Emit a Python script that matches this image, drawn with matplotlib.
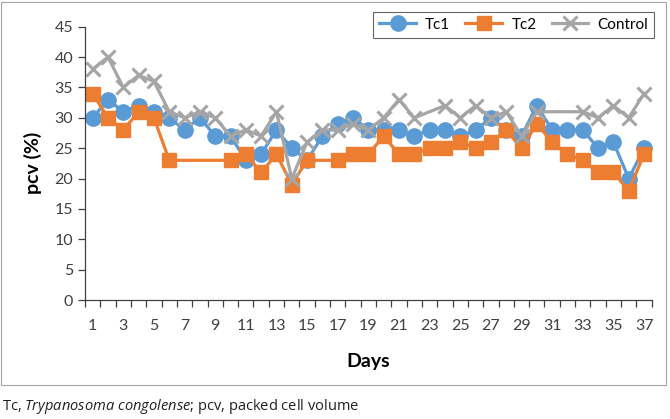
import numpy as np
import matplotlib
matplotlib.use("Agg")
import matplotlib.pyplot as plt
from matplotlib.patches import Rectangle

# pcv readings per day (nan = no reading that day, the line just joins across)
days = np.arange(1, 38)
tc1 = [30, 33, 31, 32, 31, 30, 28, 30, 27, 27, 23, 24, 28, 25, 23, 27, 29, 30, 28,
       28, 28, 27, 28, 28, 27, 28, 30, 28, 27, 32, 28, 28, 28, 25, 26, 20, 25]
tc2 = [34, 30, 28, 31, 30, 23, np.nan, np.nan, np.nan, 23, 24, 21, 24, 19, 23, np.nan,
       23, 24, 24, 27, 24, 24, 25, 25, 26, 25, 26, 28, 25, 29, 26, 24, 23, 21, 21, 18, 24]
control = [38, 40, 35, 37, 36, 31, 30, 31, 30, 27, 28, 27, 31, 20, 26, 28, 28, 29, 28,
           30, 33, 30, np.nan, 32, 30, 32, 30, 31, 27, 31, np.nan, np.nan, 31, 30, 32, 30, 34]
day_labels = [str(d) if d % 2 == 1 else "" for d in days]

plt.rcParams['font.family'] = ['Lato', 'DejaVu Sans']
plt.rcParams['mathtext.fontset'] = 'custom'
plt.rcParams['mathtext.it'] = 'Open Sans:italic'
plt.rcParams['mathtext.rm'] = 'Open Sans'

fig = plt.figure(figsize=(6.7, 4.19), dpi=100)
ax = fig.add_axes([85 / 670, 1 - 300 / 419, (651.7 - 85) / 670, (300 - 26.7) / 419])

series = [
    ("Tc1", tc1, "#5B9BD5", dict(marker="o", markersize=11)),
    ("Tc2", tc2, "#ED7D31", dict(marker="s", markersize=10.5)),
    ("Control", control, "#A5A5A5", dict(marker="x", markersize=10, markeredgewidth=2.2)),
]
for name, vals, col, mk in series:
    vals = np.array(vals, dtype=float)
    ok = ~np.isnan(vals)
    ax.plot(days[ok], vals[ok], color=col, lw=2.3, label=name, clip_on=False, **mk)

ax.set_xlim(0.5, 37.5)
ax.set_ylim(0, 45)
ax.set_yticks(np.arange(0, 46, 5))
ax.set_xticks(days)
ax.set_xticklabels(day_labels)
ax.set_xticks(np.arange(0.5, 38, 1), minor=True)
ax.tick_params(axis="x", which="major", length=0, pad=14, labelsize=11.5, colors="#404040")
ax.tick_params(axis="x", which="minor", length=5, width=0.9, color="#404040")
ax.tick_params(axis="y", length=5, width=0.9, labelsize=11.5, colors="#404040")
for s in ["top", "right"]:
    ax.spines[s].set_visible(False)
for s in ["left", "bottom"]:
    ax.spines[s].set_color("#404040")
    ax.spines[s].set_linewidth(0.9)

ax.set_xlabel("Days", fontsize=14, fontweight="bold", labelpad=14)
ax.set_ylabel("pcv (%)", fontsize=14, fontweight="bold", labelpad=9)

leg = ax.legend(loc="upper right", bbox_to_anchor=(662 / 670, 1 - 4 / 419),
                bbox_transform=fig.transFigure, ncol=3, fancybox=False,
                edgecolor="#404040", fontsize=11, handlelength=2.4,
                handletextpad=0.6, columnspacing=1.0, borderpad=0.4)
leg.get_frame().set_linewidth(0.8)

# outer chart border
fig.patches.append(Rectangle((1 / 670, 1 - 385 / 419), 665 / 670, 383 / 419,
                             transform=fig.transFigure, fill=False,
                             edgecolor="#A6A6A6", lw=0.8))

fig.text(2 / 670, 1 - 406 / 419, r"Tc, $\it{Trypanosoma\ congolense}$; pcv, packed cell volume",
         fontsize=10.5, family="Open Sans", va="center", color="#231F20")

fig.savefig("out.png", dpi=100)
